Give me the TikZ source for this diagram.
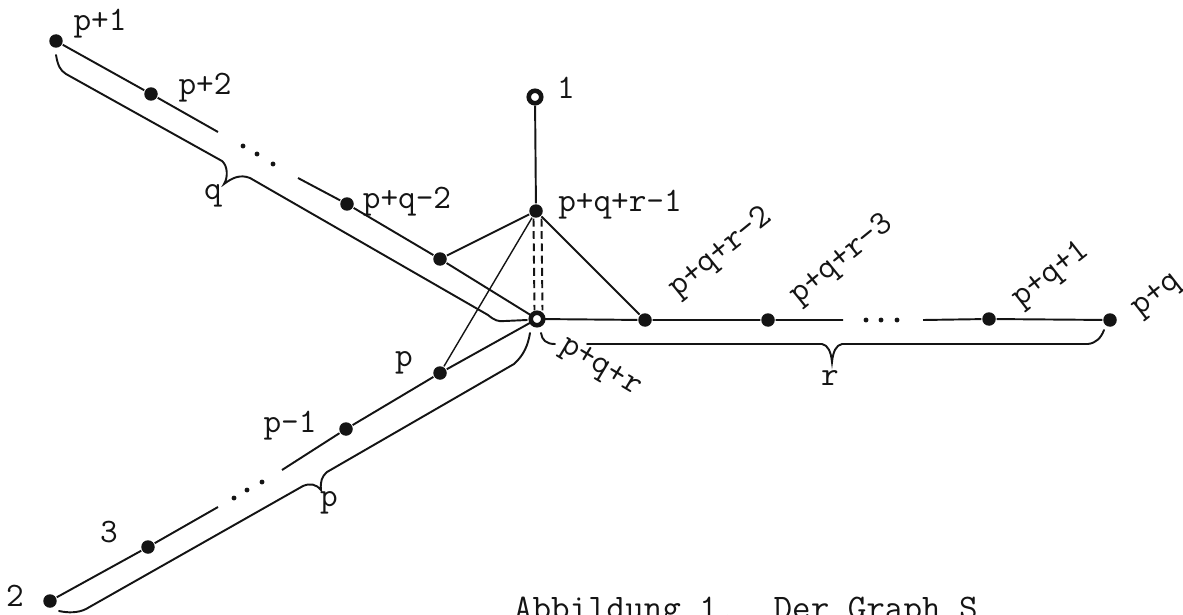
\documentclass[tikz,border=0pt]{standalone}
\usepackage{tikz}
\usetikzlibrary{positioning}
\definecolor{inkBlack}{RGB}{20,20,20}

\begin{document}
\begin{tikzpicture}[x=0.02cm, y=-0.02cm, line width=1.1pt, draw=inkBlack,
  vtx/.style={circle, fill=inkBlack, inner sep=0pt, minimum size=0.27cm},
  ring/.style={circle, draw=inkBlack, fill=white, line width=2.6pt, inner sep=0pt, minimum size=0.25cm},
  lbl/.style={font=\ttfamily\fontsize{19.5}{19.5}\selectfont, text=inkBlack, inner sep=0pt},
  captxt/.style={font=\ttfamily\fontsize{20.5}{20.5}\selectfont, text=inkBlack, inner sep=0pt},
  brc/.style={line width=1.1pt, line cap=round}]
\useasboundingbox (0,0) rectangle (1183,615);
\node[vtx] (pone) at (56,41) {};
\node[vtx] (ptwo) at (151,94) {};
\node[vtx] (pqmtwo) at (347,204) {};
\node[vtx] (pqmone) at (440,259) {};
\node[vtx] (top) at (536,211) {};
\node[ring] (one) at (535,97) {};
\node[vtx] (rtwo) at (645,320) {};
\node[vtx] (rthree) at (768,320) {};
\node[vtx] (pqone) at (989,319) {};
\node[vtx] (pq) at (1110,320) {};
\node[vtx] (p) at (440,373) {};
\node[vtx] (pmone) at (346,429) {};
\node[vtx] (three) at (148,547) {};
\node[vtx] (two) at (50,601) {};
\coordinate (qa) at (218,132);
\coordinate (qb) at (298,178);
\coordinate (ra) at (843,320);
\coordinate (rb) at (923,320);
\coordinate (pa) at (282,470);
\coordinate (pb) at (218,507);
\draw (pone) -- (ptwo) -- (qa);
\draw (qb) -- (pqmtwo) -- (pqmone) -- (537,319);
\draw (537,319) -- (rtwo) -- (rthree) -- (ra);
\draw (rb) -- (pqone) -- (pq);
\draw (537,319) -- (p) -- (pmone) -- (pa);
\draw (pb) -- (three) -- (two);
\draw (one) -- (top);
\draw (top) -- (pqmone);
\draw (top) -- (rtwo);
\draw[line width=0.8pt] (top) -- (p);
\node[ring] (hub) at (537,319) {};
\draw[dashed, dash pattern=on 4.5pt off 2.5pt] ([xshift=-0.05cm]top.south) -- ([xshift=-0.05cm]hub.north);
\draw[dashed, dash pattern=on 4.5pt off 2.5pt] ([xshift=0.11cm]top.south) -- ([xshift=0.11cm]hub.north);
\foreach \x/\y in {243/146,257/154,273/164,866/320,881/320,897/320,234/498,247/490,262/482}
{
\fill[inkBlack] (\x,\y) circle (1.4pt);
}
\draw[brc] (56,55) .. controls (58,66) and (60,70) .. (66,74) -- (222,161) .. controls (228,166) and (228,178) .. (224,184) .. controls (232,178) and (240,174) .. (250,178) -- (488,315) .. controls (494,320) and (498,322) .. (505,321) -- (527,320);
\draw[brc] (530,333) .. controls (528,345) and (524,355) .. (514,364) -- (327,472) .. controls (322,476) and (320,482) .. (321,490) .. controls (316,484) and (310,483) .. (303,486) -- (86,609) .. controls (78,613) and (68,613) .. (59,611);
\draw[brc] (541,333) .. controls (542,340) and (546,344) .. (555,344);
\draw[brc] (587,344) -- (822,344) .. controls (828,345) and (831,352) .. (832,362) .. controls (833,352) and (836,345) .. (842,344) -- (1088,344) .. controls (1096,343) and (1101,338) .. (1104,330);
\node[lbl] (lpone) at (100,24) {p+1};
\node[lbl] (lptwo) at (205,88) {p+2};
\node[lbl] (lq) at (213,196) {q};
\node[lbl] (lpqmtwo) at (407,202) {p+q-2};
\node[lbl] (ltop) at (620,205) {p+q+r-1};
\node[lbl] (lone) at (566,88) {1};
\node[lbl, rotate=39] (lrtwo) at (721,253) {p+q+r-2};
\node[lbl, rotate=39] (lrthree) at (842,260) {p+q+r-3};
\node[lbl, rotate=38] (lpqone) at (1051,275) {p+q+1};
\node[lbl, rotate=38] (lpq) at (1157,296) {p+q};
\node[lbl, rotate=-31] (lhub) at (600,368) {p+q+r};
\node[lbl] (lr) at (830,378) {r};
\node[lbl] (lp) at (404,363) {p};
\node[lbl] (lpmone) at (290,426) {p-1};
\node[lbl] (lthree) at (109,532) {3};
\node[lbl] (ltwo) at (15,596) {2};
\node[lbl] (lpbrace) at (329,503) {p};
\node[captxt, anchor=base west] (caption) at (513,619) {Abbildung 1.~~Der Graph S};
\end{tikzpicture}
\end{document}
